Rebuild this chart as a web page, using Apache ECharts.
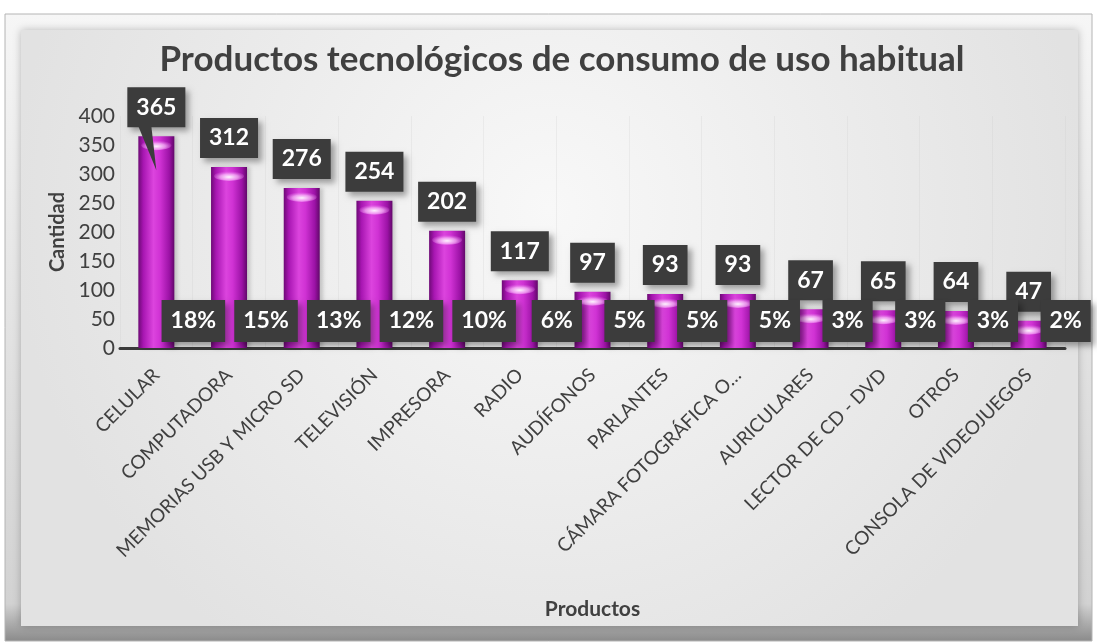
<!DOCTYPE html>
<html>
<head>
<meta charset="utf-8">
<script src="https://cdn.jsdelivr.net/npm/echarts@6/dist/echarts.min.js"></script>
<style>
  html, body { margin: 0; padding: 0; background: #ffffff; }
  #chart { width: 1097px; height: 644px; }
</style>
</head>
<body>
<div id="chart"></div>
<script>
// Products and how many respondents use each one
const categories = [
  'CELULAR', 'COMPUTADORA', 'MEMORIAS USB Y MICRO SD', 'TELEVISIÓN', 'IMPRESORA',
  'RADIO', 'AUDÍFONOS', 'PARLANTES', 'CÁMARA FOTOGRÁFICA O…', 'AURICULARES',
  'LECTOR DE CD - DVD', 'OTROS', 'CONSOLA DE VIDEOJUEGOS'
];
const cantidades = [365, 312, 276, 254, 202, 117, 97, 93, 93, 67, 65, 64, 47];
const porcentajes = ['18%', '15%', '13%', '12%', '10%', '6%', '5%', '5%', '5%', '3%', '3%', '3%', '2%'];
const yMin = 0, yMax = 400, yStep = 50;

const FONT = 'Lato, "Open Sans", sans-serif';
const TEXT = '#404040';

const chart = echarts.init(document.getElementById('chart'), null, { renderer: 'canvas' });

// cylinder-like shading across each bar
const barFill = new echarts.graphic.LinearGradient(0, 0, 1, 0, [
  { offset: 0, color: '#6e0a76' },
  { offset: 0.14, color: '#a816b2' },
  { offset: 0.42, color: '#dc44de' },
  { offset: 0.6, color: '#d032d4' },
  { offset: 0.86, color: '#9c12a6' },
  { offset: 1, color: '#62086a' }
]);

const boxLabel = {
  show: true,
  color: '#ffffff',
  fontFamily: FONT,
  fontWeight: 'bold',
  fontSize: 23,
  lineHeight: 24,
  backgroundColor: '#3c3c3c',
  padding: [8, 9, 8, 9],
  opacity: 1,
  shadowColor: 'rgba(0,0,0,0.35)',
  shadowBlur: 6,
  shadowOffsetX: 4,
  shadowOffsetY: 4
};

const option = {
  backgroundColor: '#ffffff',
  animation: false,
  title: {
    text: 'Productos tecnológicos de consumo de uso habitual',
    left: 557,
    top: 37,
    textAlign: 'center',
    textStyle: { fontFamily: FONT, fontWeight: 'bold', fontSize: 35, color: TEXT }
  },
  graphic: [
    {
      id: 'frameOuter', type: 'rect', z: 0, silent: true,
      shape: { x: 5, y: 14, width: 1087, height: 627 },
      style: {
        fill: new echarts.graphic.LinearGradient(0, 0, 0, 1, [
          { offset: 0, color: '#f6f6f6' },
          { offset: 0.94, color: '#d2d2d2' },
          { offset: 1, color: '#8a8a8a' }
        ]),
        stroke: '#b4b4b4', lineWidth: 1
      }
    },
    {
      id: 'frameInner', type: 'rect', z: 0, silent: true,
      shape: { x: 21, y: 30, width: 1057, height: 596 },
      style: {
        fill: new echarts.graphic.RadialGradient(0.5, 0.3, 0.9, [
          { offset: 0, color: '#f8f8f8' },
          { offset: 1, color: '#e2e2e2' }
        ]),
        shadowColor: 'rgba(0,0,0,0.25)', shadowBlur: 8
      }
    }
  ],
  grid: { left: 120, right: 32, top: 116, bottom: 296, containLabel: false },
  xAxis: {
    type: 'category',
    data: categories,
    name: 'Productos',
    nameLocation: 'middle',
    nameGap: 251,
    nameTextStyle: { fontFamily: FONT, fontWeight: 'bold', fontSize: 21, color: TEXT },
    axisLine: { show: true, lineStyle: { color: '#3a3a3a', width: 3 } },
    axisTick: { show: false },
    splitLine: { show: true, lineStyle: { color: 'rgba(205,205,205,0.25)', width: 1 } },
    axisLabel: {
      interval: 0, rotate: 45, margin: 24,
      fontFamily: FONT, fontSize: 19, color: TEXT
    }
  },
  yAxis: {
    type: 'value',
    min: yMin, max: yMax, interval: yStep,
    name: 'Cantidad',
    nameLocation: 'middle',
    nameGap: 49,
    nameTextStyle: { fontFamily: FONT, fontWeight: 'bold', fontSize: 20, color: TEXT },
    axisLine: { show: false },
    axisTick: { show: false },
    splitLine: { show: false },
    axisLabel: { margin: 5, fontFamily: FONT, fontSize: 21, color: TEXT }
  },
  series: [
    {
      name: 'Cantidad',
      type: 'bar',
      data: cantidades,
      barWidth: 36,
      z: 3,
      itemStyle: { color: barFill, shadowColor: 'rgba(0,0,0,0.18)', shadowBlur: 4, shadowOffsetX: 3 },
      label: Object.assign({}, boxLabel, { position: 'top', distance: 9 })
    },
    {
      // glossy cap at the top of each cylinder
      name: 'brillo',
      type: 'pictorialBar',
      data: cantidades,
      symbol: 'circle',
      symbolSize: [30, 10],
      symbolPosition: 'end',
      symbolOffset: [0, 4],
      barGap: '-100%',
      z: 4,
      silent: true,
      itemStyle: {
        color: new echarts.graphic.RadialGradient(0.5, 0.6, 0.6, [
          { offset: 0, color: 'rgba(255,255,255,0.95)' },
          { offset: 0.5, color: 'rgba(255,200,255,0.65)' },
          { offset: 1, color: 'rgba(230,120,235,0)' }
        ])
      }
    },
    {
      // share of the total, shown beside the base of each bar
      name: 'Porcentaje',
      type: 'scatter',
      data: porcentajes.map((p, i) => ({ value: [i, 0], pct: p })),
      symbolSize: 0,
      z: 6,
      silent: true,
      itemStyle: { opacity: 1 },
      label: Object.assign({}, boxLabel, {
        position: 'inside',
        offset: [37, -27],
        padding: [9, 9, 9, 9],
        formatter: (p) => p.data.pct
      })
    }
  ]
};

chart.setOption(option);

// callout pointer from the first value box into its bar
const top0 = chart.convertToPixel({ seriesIndex: 0 }, [0, cantidades[0]]);
chart.setOption({
  graphic: [{
    id: 'pointer', type: 'polygon', z: 10, silent: true,
    shape: { points: [[top0[0] - 18, top0[1] - 10], [top0[0] - 5, top0[1] - 10], [top0[0], top0[1] + 34]] },
    style: { fill: '#3c3c3c' }
  }]
});
</script>
</body>
</html>
